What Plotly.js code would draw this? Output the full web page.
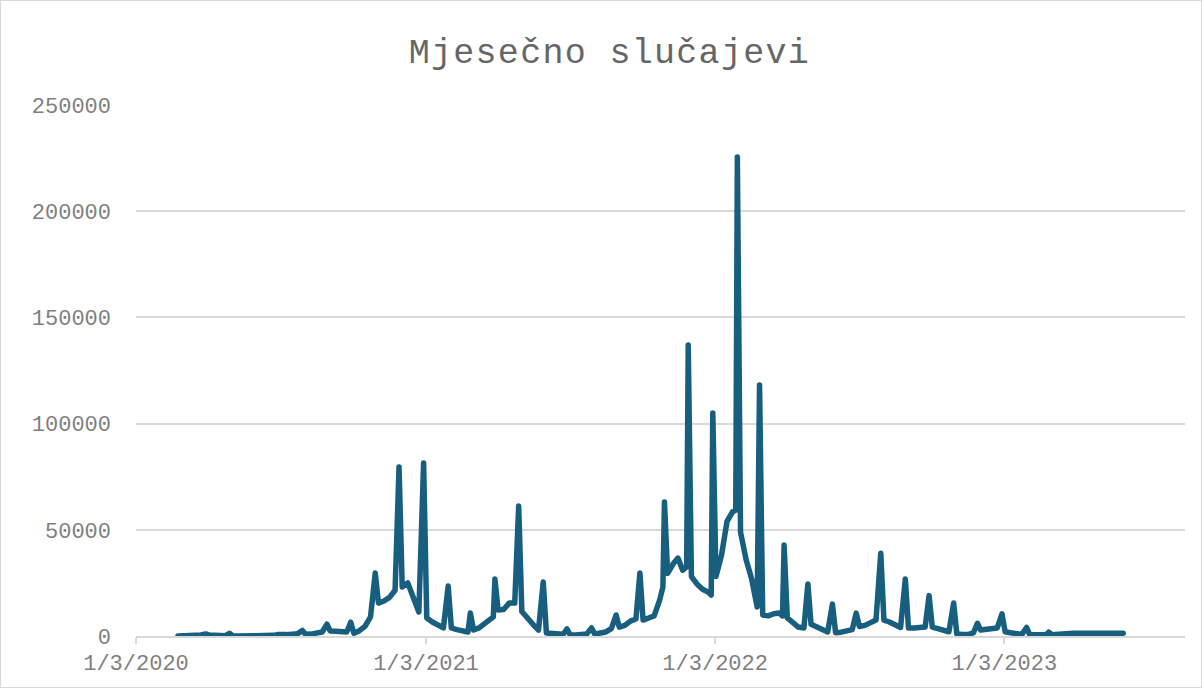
<!DOCTYPE html>
<html>
<head>
<meta charset="utf-8">
<script src="https://cdn.plot.ly/plotly-3.0.1.min.js"></script>
<style>
  html, body { margin: 0; padding: 0; background: #ffffff; }
  #chart { width: 1200px; height: 686px; border: 1px solid #d9d9d9; }
  .js-line { stroke-linejoin: round !important; stroke-linecap: round !important; }
  .gtitle { letter-spacing: 1.3px; }
</style>
</head>
<body>
<div id="chart"></div>
<script>
// Dates (weekly values + month-end totals) and case counts
const dates2020 = ['2020-02-25','2020-02-29','2020-03-04','2020-03-11','2020-03-18','2020-03-25','2020-03-31',
  '2020-04-04','2020-04-11','2020-04-18','2020-04-25','2020-04-30',
  '2020-05-04','2020-05-11','2020-05-18','2020-05-25','2020-05-31',
  '2020-06-04','2020-06-11','2020-06-18','2020-06-25','2020-06-30',
  '2020-07-04','2020-07-11','2020-07-18','2020-07-25','2020-07-31',
  '2020-08-04','2020-08-11','2020-08-18','2020-08-25','2020-08-31',
  '2020-09-04','2020-09-11','2020-09-18','2020-09-25','2020-09-30',
  '2020-10-04','2020-10-11','2020-10-18','2020-10-25','2020-10-31',
  '2020-11-04','2020-11-11','2020-11-18','2020-11-25','2020-11-30',
  '2020-12-04','2020-12-11','2020-12-18','2020-12-25','2020-12-31'];
const cases2020 = [2,7,30,80,250,450,950,
  500,400,250,150,1300,
  80,50,30,20,150,
  30,60,150,300,700,
  450,650,850,1100,2600,
  800,900,1300,1900,5600,
  2400,2200,2000,1900,6500,
  1300,2500,4500,9000,29700,
  15500,16500,18200,21500,79600,
  23100,25000,18400,11300,81400];

const dates2021 = ['2021-01-04','2021-01-11','2021-01-18','2021-01-25','2021-01-31',
  '2021-02-04','2021-02-11','2021-02-18','2021-02-25','2021-02-28',
  '2021-03-04','2021-03-11','2021-03-18','2021-03-25','2021-03-29','2021-03-31',
  '2021-04-04','2021-04-11','2021-04-18','2021-04-25','2021-04-30',
  '2021-05-04','2021-05-11','2021-05-18','2021-05-25','2021-05-31',
  '2021-06-04','2021-06-11','2021-06-18','2021-06-25','2021-06-30',
  '2021-07-04','2021-07-11','2021-07-18','2021-07-25','2021-07-31',
  '2021-08-04','2021-08-11','2021-08-18','2021-08-25','2021-08-31',
  '2021-09-04','2021-09-11','2021-09-18','2021-09-25','2021-09-30',
  '2021-10-04','2021-10-11','2021-10-18','2021-10-25','2021-10-29','2021-10-31',
  '2021-11-04','2021-11-11','2021-11-17','2021-11-23','2021-11-28','2021-11-30',
  '2021-12-04','2021-12-11','2021-12-18','2021-12-25','2021-12-29','2021-12-31'];
const cases2021 = [8500,6600,5000,3800,23500,
  3800,3000,2300,1900,10800,
  2800,3800,5800,7500,9000,26800,
  12200,12500,15500,15500,61200,
  11500,8000,5500,2800,25400,
  1400,1000,900,800,3300,
  500,500,600,1000,3800,
  900,1400,1900,3500,9900,
  4200,5000,7000,8000,29700,
  7500,8500,9500,17000,23000,63100,
  29500,34000,36700,31000,32500,137000,
  28000,24500,22000,20700,19300,105000];

const dates2022 = ['2022-01-04','2022-01-11','2022-01-18','2022-01-25','2022-01-29','2022-01-31',
  '2022-02-04','2022-02-11','2022-02-18','2022-02-25','2022-02-28',
  '2022-03-04','2022-03-11','2022-03-18','2022-03-25','2022-03-29','2022-03-31',
  '2022-04-04','2022-04-11','2022-04-18','2022-04-25','2022-04-30',
  '2022-05-04','2022-05-11','2022-05-18','2022-05-25','2022-05-31',
  '2022-06-04','2022-06-11','2022-06-18','2022-06-25','2022-06-30',
  '2022-07-04','2022-07-11','2022-07-18','2022-07-25','2022-07-31',
  '2022-08-04','2022-08-11','2022-08-18','2022-08-25','2022-08-31',
  '2022-09-04','2022-09-11','2022-09-18','2022-09-25','2022-09-30',
  '2022-10-04','2022-10-11','2022-10-18','2022-10-25','2022-10-31',
  '2022-11-04','2022-11-11','2022-11-18','2022-11-25','2022-11-30',
  '2022-12-04','2022-12-11','2022-12-18','2022-12-25','2022-12-31'];
const cases2022 = [28000,38000,54000,58500,59300,225500,
  49000,36000,27000,13700,118200,
  9900,9500,10500,10800,9500,42800,
  8500,6000,4200,3800,24500,
  5500,4200,3000,1900,15000,
  1500,1800,2200,3000,10800,
  4500,5000,6500,7500,39000,
  7500,6600,5500,4000,26800,
  3800,3800,4000,4200,19000,
  4200,3500,2800,2000,15500,
  1000,700,700,1500,6000,
  2800,3000,3300,3800,10400];

const dates2023 = ['2023-01-04','2023-01-11','2023-01-18','2023-01-25','2023-01-31',
  '2023-02-04','2023-02-11','2023-02-18','2023-02-25','2023-02-28',
  '2023-03-04','2023-03-31','2023-04-30','2023-05-31','2023-06-02'];
const cases2023 = [2000,1500,1000,700,4000,
  700,600,500,600,1800,
  600,1300,1500,1500,1300];

const xDates = dates2020.concat(dates2021, dates2022, dates2023);
const yCases = cases2020.concat(cases2021, cases2022, cases2023);

const titleText = 'Mjesečno slučajevi';
const axisFont = { family: 'Liberation Mono, Courier New, monospace', size: 22, color: '#7f7f7f' };

const trace = {
  x: xDates,
  y: yCases,
  type: 'scatter',
  mode: 'lines',
  line: { color: '#175e7f', width: 5.5, shape: 'linear' },
  hoverinfo: 'x+y'
};

const layout = {
  width: 1200,
  height: 686,
  paper_bgcolor: '#ffffff',
  plot_bgcolor: '#ffffff',
  margin: { l: 135, r: 16, t: 104, b: 51 },
  showlegend: false,
  title: {
    text: titleText,
    font: { family: 'Liberation Mono, Courier New, monospace', size: 35, color: '#666666' },
    x: 0.507, xanchor: 'center',
    y: 0.927, yanchor: 'middle'
  },
  xaxis: {
    type: 'date',
    range: ['2020-01-03', '2023-08-19'],
    tick0: '2020-01-03',
    dtick: 'M12',
    tickformat: '%-m/%-d/%Y',
    showgrid: false,
    zeroline: false,
    showline: true,
    linecolor: '#d9d9d9',
    linewidth: 2,
    ticks: 'outside',
    ticklen: 6,
    tickwidth: 2,
    tickcolor: '#d9d9d9',
    tickfont: axisFont
  },
  yaxis: {
    range: [0, 250000],
    tick0: 0,
    dtick: 50000,
    tickformat: 'd',
    showgrid: true,
    gridcolor: '#d9d9d9',
    gridwidth: 2,
    zeroline: false,
    showline: false,
    ticks: '',
    ticklabelstandoff: 24,
    tickfont: axisFont
  }
};

Plotly.newPlot('chart', [trace], layout, { displayModeBar: false, staticPlot: true });
</script>
</body>
</html>
